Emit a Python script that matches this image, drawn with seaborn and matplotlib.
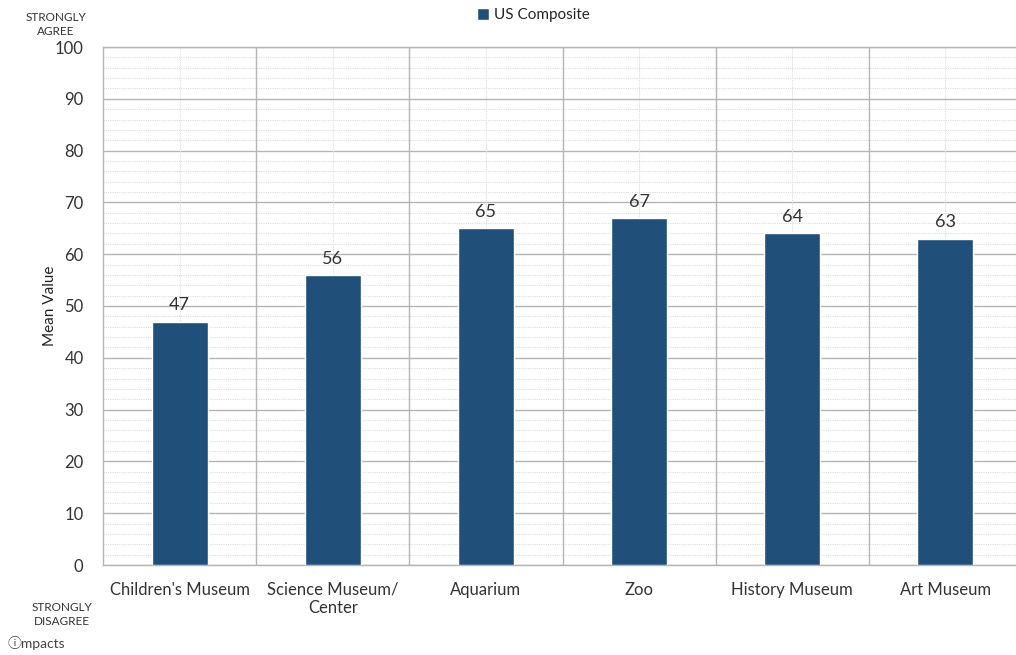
import matplotlib
matplotlib.use("Agg")
import matplotlib.pyplot as plt
import seaborn as sns
import pandas as pd
import numpy as np
from matplotlib.ticker import MultipleLocator, FixedLocator

categories = ["Children's Museum", "Science Museum/\nCenter", "Aquarium", "Zoo", "History Museum", "Art Museum"]
values = [47, 56, 65, 67, 64, 63]
series_name = "US Composite"
yticks = [0, 10, 20, 30, 40, 50, 60, 70, 80, 90, 100]

sns.set_theme(style="white")
plt.rcParams['font.family'] = ['Lato', 'Noto Sans CJK SC', 'DejaVu Sans']

df = pd.DataFrame({"category": categories, "value": values, "series": series_name})

fig = plt.figure(figsize=(10.16, 6.55), dpi=100)
ax = fig.add_axes([103/1016, 1-565/655, (1022-103)/1016, (565-47)/655])

bar_color = "#20507a"
sns.barplot(data=df, x="category", y="value", hue="series", palette=[bar_color],
            width=0.366, ax=ax, saturation=1, zorder=3)

ax.set_xlim(-0.5, len(categories) - 0.5)
ax.set_ylim(0, 100)
ax.yaxis.set_major_locator(FixedLocator(yticks))
ax.yaxis.set_minor_locator(MultipleLocator(2))
ax.xaxis.set_minor_locator(FixedLocator(np.arange(len(categories))))

# gridlines
ax.grid(False)
for y in np.arange(0, 101, 2):
    if y % 10 == 0:
        ax.axhline(y, color="#b5b5b5", lw=1.0, zorder=1)
    else:
        ax.axhline(y, color="#dddddd", lw=0.8, ls=(0, (1, 1)), zorder=1)
for i in range(len(categories)):
    ax.axvline(i, color="#dddddd", lw=0.8, ls=(0, (1, 1)), zorder=1)
    if i > 0:
        ax.axvline(i - 0.5, color="#b5b5b5", lw=1.0, zorder=1)

for s in ["left", "top", "bottom", "right"]:
    ax.spines[s].set_color("#b5b5b5")
    ax.spines[s].set_linewidth(1.0)

ax.tick_params(axis="both", which="both", length=0)
ax.tick_params(axis="x", pad=12, labelsize=12, labelcolor="#333333")
ax.tick_params(axis="y", pad=14, labelsize=12, labelcolor="#333333")
ax.set_xlabel("")
ax.set_ylabel("Mean Value", fontsize=11, color="#222222")
ax.yaxis.set_label_coords((57 - 103) / 919, 0.5)

for i, v in enumerate(values):
    ax.text(i, v + 1.6, f"{v}", ha="center", va="bottom", fontsize=13, color="#333333")

sns.move_legend(ax, "upper center", bbox_to_anchor=(533/1016, 1.0 + 4/655), bbox_transform=fig.transFigure,
                frameon=False, title=None, fontsize=11, handlelength=0.8, handleheight=0.8,
                handletextpad=0.3, borderpad=0.3)

fig.text(56/1016, 1-24.5/655, "STRONGLY\nAGREE", ha="center", va="center", fontsize=8.5, color="#333333",
         linespacing=1.35)
fig.text(62/1016, 1-614.5/655, "STRONGLY\nDISAGREE", ha="center", va="center", fontsize=8.5, color="#333333",
         linespacing=1.35)
fig.text(8/1016, 1-643/655, "\u24d8mpacts", ha="left", va="center", fontsize=10, color="#444444")

fig.savefig("out.png", dpi=100)
